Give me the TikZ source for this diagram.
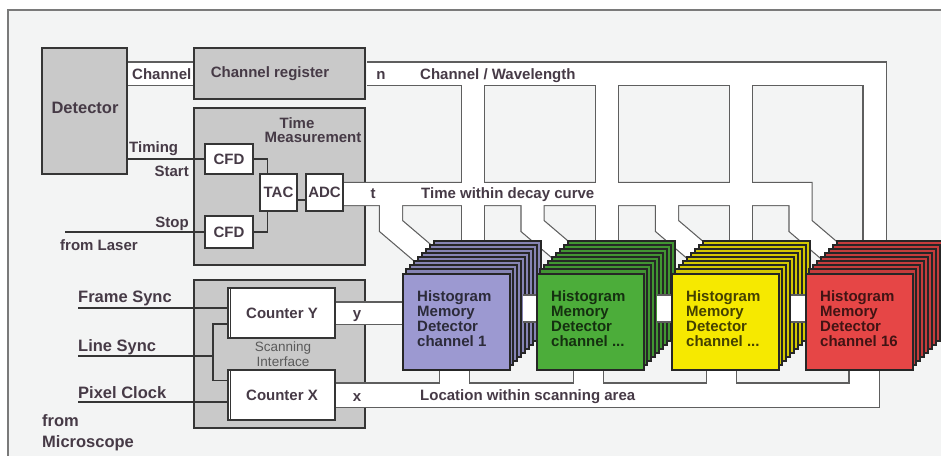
\documentclass[tikz,border=0pt]{standalone}
\usepackage{fontspec}
\setmainfont{Liberation Sans}
\definecolor{bgc}{HTML}{F3F4F4}
\definecolor{framec}{HTML}{7A7A7A}
\definecolor{boxc}{HTML}{C9C9C9}
\definecolor{edgec}{HTML}{353535}
\definecolor{pipec}{HTML}{5E5E5E}
\definecolor{txtc}{HTML}{463A46}
\definecolor{subc}{HTML}{5A5A5A}
\definecolor{cpur}{HTML}{9C99D1}
\definecolor{cgrn}{HTML}{4CAD3A}
\definecolor{cyel}{HTML}{F6E900}
\definecolor{cred}{HTML}{E64646}
\pgfdeclarelayer{bgl}
\pgfdeclarelayer{grayl}
\pgfdeclarelayer{pdark}
\pgfdeclarelayer{pwhite}
\pgfsetlayers{bgl,grayl,pdark,pwhite,main}
\newcommand\buspipe[2]{%
  \pgfmathsetmacro\pipeouter{#1+2.4}%
  \begin{pgfonlayer}{pdark}\draw[pipec,line width=\pipeouter pt,line join=miter,line cap=butt] #2;\end{pgfonlayer}%
  \begin{pgfonlayer}{pwhite}\draw[white,line width=#1pt,line join=miter,line cap=butt] #2;\end{pgfonlayer}%
}
\newcommand\histstack[4]{%
  \foreach \k in {8,7,...,1}{%
    \pgfmathsetmacro\sx{#2+4*\k}%
    \pgfmathsetmacro\sy{273-4*\k}%
    \draw[layerc, fill=#3!86!black] (\sx,\sy) rectangle +(107,96);
  }%
  \node[frontc, fill=#3, minimum width=107pt, minimum height=96pt, anchor=north west] (#1) at (#2,273) {};
  \node[stxt, text=#3!28!black, anchor=north west] at ([xshift=15pt,yshift=-17pt]#1.north west) {Histogram\\Memory\\Detector\\#4};
}
\newcommand\gapblock[1]{%
  \fill[white] (#1,295) rectangle +(19,27);
  \draw[pipec, line width=1.2pt] (#1,295) -- +(19,0) (#1,322) -- +(19,0);
}
\begin{document}
\begin{tikzpicture}[x=1pt,y=-1pt,
  graybox/.style={draw=edgec, line width=2.4pt, fill=boxc, inner sep=0pt},
  wbox/.style={draw=edgec, line width=1.5pt, fill=white, inner sep=0pt},
  wire/.style={draw=edgec, line width=1.5pt},
  lbl/.style={inner sep=0pt, text=txtc, font=\bfseries\fontsize{15}{18}\selectfont},
  biglbl/.style={lbl, font=\bfseries\fontsize{16.5}{19}\selectfont},
  sublbl/.style={inner sep=0pt, text=subc, font=\fontsize{13.5}{15}\selectfont},
  layerc/.style={draw=black!85, line width=1.1pt},
  frontc/.style={draw=black!85, line width=1.5pt, inner sep=0pt},
  stxt/.style={inner sep=0pt, align=left, font=\bfseries\fontsize{15}{15.3}\selectfont}]
\useasboundingbox (0,0) rectangle (941,455);
\begin{pgfonlayer}{bgl}
  \fill[white] (0,0) rectangle (941,455);
  \fill[bgc] (8,10) rectangle (950,460);
  \draw[framec, line width=1.6pt] (8,460) -- (8,10) -- (950,10);
\end{pgfonlayer}
% gray boxes
\begin{pgfonlayer}{grayl}
  \node[graybox, minimum width=85pt, minimum height=126pt] (det) at (84.5,111) {};
  \node[graybox, minimum width=171pt, minimum height=51pt] (chreg) at (279.5,73.5) {};
  \node[graybox, minimum width=171pt, minimum height=157pt] (tm) at (279.5,186.5) {};
  \node[graybox, minimum width=171pt, minimum height=148pt] (si) at (279.5,354) {};
\end{pgfonlayer}
\begin{pgfonlayer}{bgl}
  \draw[pipec, line width=24.4pt] (det.east |- chreg.west) -- (chreg.west);
  \draw[white, line width=22pt] (det.east |- chreg.west) -- (chreg.west);
\end{pgfonlayer}
% inner boxes
\node[wbox, minimum width=48pt, minimum height=30pt] (cfd1) at (229,159) {};
\node[wbox, minimum width=48pt, minimum height=32pt] (cfd2) at (229,232) {};
\node[wbox, minimum width=37pt, minimum height=37pt] (tac) at (278.5,192.5) {};
\node[wbox, minimum width=37pt, minimum height=37pt] (adc) at (324.5,192.5) {};
\node[wbox, minimum width=107pt, minimum height=50pt] (cy) at (281.5,313) {};
\node[wbox, minimum width=107pt, minimum height=50pt] (cx) at (281.5,395) {};
\draw[edgec, line width=1pt] ([xshift=3.5pt]cy.north west) -- ([xshift=3.5pt]cy.south west);
\draw[edgec, line width=1pt] ([xshift=3.5pt]cx.north west) -- ([xshift=3.5pt]cx.south west);
% wires
\draw[wire] (det.east |- cfd1.west) -- (cfd1.west);
\coordinate (laser) at (65,232);
\draw[wire] (laser) -- (cfd2.west);
\draw[wire] (cfd1.east) -| ([xshift=8pt]tac.north west);
\draw[wire] (cfd2.east) -| ([xshift=8pt]tac.south west);
\coordinate (tacx) at ([yshift=-7.5pt]tac.east);
\draw[wire] (tacx) -- (tacx -| adc.west);
\coordinate (fsync) at (78,308);
\draw[wire] (fsync) -- (fsync -| cy.west);
\coordinate (lsync) at (78,356);
\coordinate (lsj) at (213,356);
\draw[wire] (lsync) -- (lsj);
\coordinate (cyin) at ([yshift=15pt]cy.south west);
\coordinate (cxin) at ([yshift=-11pt]cx.north west);
\draw[wire] (cyin) -| (lsj) |- (cxin);
\coordinate (pclk) at (78,402);
\draw[wire] (pclk) -- (pclk -| cx.west);
% stacks
\histstack{s1}{402}{cpur}{channel 1}
\gapblock{523}
\histstack{s2}{536}{cgrn}{channel ...}
\gapblock{657}
\histstack{s3}{671}{cyel}{channel ...}
\gapblock{791}
\histstack{s4}{805}{cred}{channel 16}
% buses
\coordinate (cb1) at (473,262);
\coordinate (cb2) at (607,262);
\coordinate (cb3) at (741,262);
\coordinate (cb4) at (874.5,262);
\buspipe{22}{([xshift=1.2pt]chreg.east) -- (874.5,73.5) -- (cb4)}
\buspipe{22}{(473,73.5) -- (cb1)}
\buspipe{22}{(607,73.5) -- (cb2)}
\buspipe{22}{(741,73.5) -- (cb3)}
\coordinate (tb1) at (425,255);
\coordinate (tb2) at (566.5,255);
\coordinate (tb3) at (701,255);
\coordinate (tb4) at (834.5,255);
\buspipe{22}{([yshift=-1.5pt]adc.center) -- (800.5,194) -- (800.5,226) -- (tb4)}
\buspipe{22}{(391,194) -- (391,226) -- (tb1)}
\buspipe{22}{(532.5,194) -- (532.5,226) -- (tb2)}
\buspipe{22}{(667,194) -- (667,226) -- (tb3)}
\buspipe{21}{(cy.center) -- (cy.center -| s1.center)}
\buspipe{23}{(cx.center) -- (867,395) -- (867,364)}
\buspipe{29}{(454.5,395) -- (454.5,364)}
\buspipe{29}{(588.5,395) -- (588.5,364)}
\buspipe{29}{(721.5,395) -- (721.5,364)}
\buspipe{29}{(864,395) -- (864,364)}
% texts
\node[biglbl, anchor=base] at (85,113) {Detector};
\node[lbl, anchor=base west] at (132,79) {Channel};
\node[lbl, anchor=base] at (270,77) {Channel register};
\node[lbl, anchor=base] at (297,128) {Time};
\node[lbl, anchor=base] at (313,142) {Measurement};
\node[lbl, anchor=base west] at (129,152) {Timing};
\node[lbl, anchor=base east] at (189,176) {Start};
\node[lbl, anchor=base east] at (189,227) {Stop};
\node[lbl, anchor=base west] at (60,250) {from Laser};
\node[lbl] at (cfd1) {CFD};
\node[lbl] at (cfd2) {CFD};
\node[lbl] at (tac) {TAC};
\node[lbl] at (adc) {ADC};
\node[lbl, anchor=base] at (381,79) {n};
\node[lbl, anchor=base west] at (420,79) {Channel / Wavelength};
\node[lbl, anchor=base] at (373,198) {t};
\node[lbl, anchor=base west] at (421,198) {Time within decay curve};
\node[lbl, anchor=base] at (357,318) {y};
\node[lbl, anchor=base] at (357,401) {x};
\node[lbl, anchor=base west] at (420,400) {Location within scanning area};
\node[lbl, anchor=base] at (282,318) {Counter Y};
\node[lbl, anchor=base] at (282,400) {Counter X};
\node[sublbl, anchor=base] at (283,351) {Scanning};
\node[sublbl, anchor=base] at (283,366) {Interface};
\node[biglbl, anchor=base west] at (78,302) {Frame Sync};
\node[biglbl, anchor=base west] at (78,351) {Line Sync};
\node[biglbl, anchor=base west] at (78,398) {Pixel Clock};
\node[biglbl, anchor=base west] at (42,426) {from};
\node[biglbl, anchor=base west] at (42,447) {Microscope};
\end{tikzpicture}
\end{document}
